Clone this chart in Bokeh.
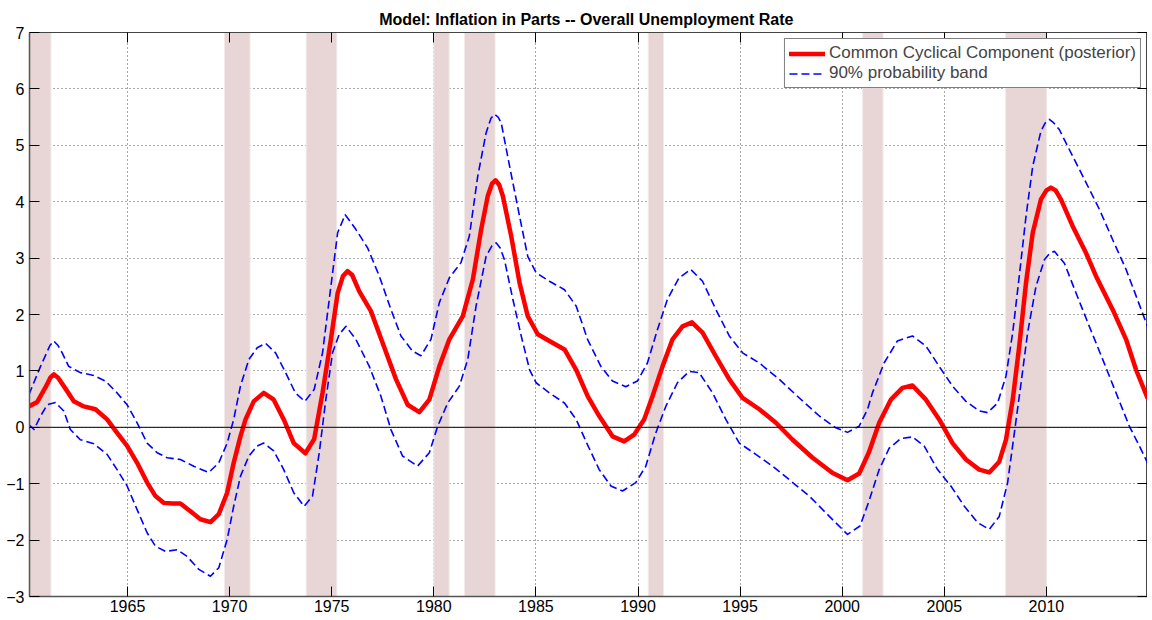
from bokeh.plotting import figure
from bokeh.models import (Range1d, FixedTicker, LinearAxis, Span, Legend, LegendItem,
                          ColumnDataSource, Title, Spacer)
from bokeh.layouts import row, column
from bokeh.embed import file_html
from bokeh.resources import INLINE

# ---------------- data ----------------
red_years = [1960.17, 1960.58, 1961.0, 1961.22, 1961.39, 1961.6, 1961.88, 1962.37, 1962.86, 1963.43, 1964.0, 1964.49,
             1964.98, 1965.47, 1965.96, 1966.37, 1966.78, 1967.2, 1967.59, 1968.08, 1968.57, 1969.06,
             1969.47, 1969.88, 1970.20, 1970.53, 1970.78, 1971.18, 1971.67, 1972.16, 1972.65, 1973.14,
             1973.71, 1974.14, 1974.55, 1974.96, 1975.29, 1975.55, 1975.78, 1976.0, 1976.35, 1976.92, 1977.49, 1978.15,
             1978.72, 1979.29, 1979.78, 1980.27, 1980.76, 1981.42, 1981.91, 1982.32, 1982.64, 1982.85, 1983.02,
             1983.2, 1983.38, 1983.79, 1984.2, 1984.6, 1985.09, 1985.66, 1986.4, 1986.97, 1987.54, 1988.10,
             1988.75, 1989.32, 1989.81, 1990.3, 1990.71, 1991.2, 1991.69, 1992.18, 1992.64, 1993.16,
             1993.81, 1994.47, 1995.12, 1995.94, 1996.75, 1997.57, 1998.55, 1999.53, 2000.26, 2000.83,
             2001.30, 2001.81, 2002.38, 2002.95, 2003.44, 2004.1, 2004.75, 2005.4, 2006.06, 2006.71,
             2007.2, 2007.69, 2008.02, 2008.35, 2008.67, 2009.0, 2009.33, 2009.73, 2010.0, 2010.22, 2010.45, 2010.71,
             2011.28, 2011.94, 2012.43, 2013.24, 2013.9, 2014.39, 2014.95]
red_vals = [0.37, 0.45, 0.72, 0.88, 0.94, 0.88, 0.73, 0.46, 0.37, 0.32, 0.14, -0.10,
            -0.33, -0.63, -0.98, -1.22, -1.34, -1.35, -1.35, -1.49, -1.63, -1.68,
            -1.54, -1.16, -0.63, -0.16, 0.14, 0.46, 0.61, 0.49, 0.14, -0.28,
            -0.46, -0.21, 0.61, 1.56, 2.38, 2.68, 2.77, 2.70, 2.41, 2.06, 1.50, 0.85,
            0.40, 0.27, 0.49, 1.08, 1.56, 1.97, 2.62, 3.51, 4.10, 4.32, 4.38,
            4.30, 4.10, 3.39, 2.56, 1.97, 1.65, 1.53, 1.38, 1.02, 0.55, 0.20,
            -0.16, -0.25, -0.13, 0.14, 0.55, 1.08, 1.56, 1.79, 1.86, 1.68,
            1.26, 0.85, 0.52, 0.32, 0.08, -0.22, -0.54, -0.81, -0.94, -0.82,
            -0.45, 0.08, 0.49, 0.70, 0.74, 0.49, 0.14, -0.28, -0.57, -0.75,
            -0.80, -0.61, -0.22, 0.49, 1.44, 2.56, 3.45, 4.04, 4.20, 4.25, 4.20, 4.04,
            3.57, 3.09, 2.68, 2.09, 1.56, 1.02, 0.52]

up_years = [1960.17, 1960.74, 1961.2, 1961.39, 1961.6, 1961.8, 1962.12, 1962.69, 1963.35, 1963.92, 1964.49, 1964.98,
            1965.47, 1965.96, 1966.45, 1966.94, 1967.59, 1968.24, 1968.98, 1969.47, 1969.88, 1970.20,
            1970.53, 1970.94, 1971.35, 1971.76, 1972.25, 1972.74, 1973.22, 1973.68, 1974.14, 1974.55,
            1974.96, 1975.29, 1975.66, 1976.18, 1976.76, 1977.33, 1977.9, 1978.39, 1978.96, 1979.37,
            1979.86, 1980.27, 1980.76, 1981.33, 1981.74, 1982.15, 1982.56, 1982.8, 1982.97, 1983.15, 1983.3, 1983.71,
            1984.2, 1984.6, 1985.01, 1985.66, 1986.4, 1986.97, 1987.54, 1988.18, 1988.75, 1989.4,
            1989.97, 1990.46, 1990.95, 1991.44, 1992.01, 1992.58, 1993.16, 1993.81, 1994.47, 1995.12,
            1995.94, 1996.92, 1997.9, 1998.88, 1999.69, 2000.26, 2000.83, 2001.24, 2001.48, 2002.05,
            2002.7, 2003.44, 2004.1, 2004.75, 2005.4, 2006.06, 2006.71, 2007.12, 2007.61, 2008.02,
            2008.35, 2008.67, 2009.0, 2009.33, 2009.73, 2009.95, 2010.14, 2010.35, 2010.63, 2011.28, 2011.94, 2012.6,
            2013.24, 2013.9, 2014.39, 2014.95]
up_vals = [0.58, 1.08, 1.45, 1.53, 1.45, 1.32, 1.08, 0.97, 0.92, 0.82, 0.61, 0.40,
           0.08, -0.28, -0.45, -0.54, -0.57, -0.69, -0.80, -0.63, -0.28, 0.14,
           0.73, 1.20, 1.41, 1.49, 1.32, 0.97, 0.61, 0.46, 0.67, 1.32,
           2.50, 3.45, 3.77, 3.51, 3.18, 2.68, 2.09, 1.62, 1.35, 1.27,
           1.56, 2.21, 2.65, 2.92, 3.39, 4.45, 5.22, 5.48, 5.55, 5.50, 5.40, 4.63,
           3.74, 3.03, 2.74, 2.59, 2.44, 2.15, 1.55, 1.08, 0.82, 0.72,
           0.82, 1.14, 1.73, 2.27, 2.65, 2.80, 2.59, 2.09, 1.62, 1.32,
           1.14, 0.85, 0.52, 0.20, -0.01, -0.09, 0.02, 0.32, 0.61, 1.14,
           1.53, 1.62, 1.44, 1.08, 0.73, 0.46, 0.29, 0.26, 0.43, 0.91,
           1.68, 2.68, 3.74, 4.63, 5.25, 5.40, 5.46, 5.40, 5.28, 4.81, 4.34, 3.86,
           3.33, 2.80, 2.33, 1.79]

lo_years = [1960.17, 1960.42, 1960.74, 1961.07, 1961.47, 1961.88, 1962.2, 1962.69, 1963.35, 1964.0,
            1964.49, 1964.98, 1965.47, 1965.96, 1966.37, 1966.86, 1967.43, 1967.92, 1968.49, 1969.06,
            1969.47, 1969.88, 1970.2, 1970.53, 1970.94, 1971.35, 1971.67, 1972.16, 1972.65, 1973.14,
            1973.65, 1974.06, 1974.39, 1974.71, 1975.04, 1975.37, 1975.7, 1976.18, 1976.84, 1977.41,
            1977.9, 1978.47, 1979.2, 1979.78, 1980.19, 1980.68, 1981.25, 1981.66, 1982.07, 1982.56,
            1982.85, 1983.05, 1983.25, 1983.46, 1983.87, 1984.28, 1984.69, 1985.01, 1985.66, 1986.4, 1986.97, 1987.54,
            1988.1, 1988.67, 1989.24, 1989.89, 1990.38, 1990.87, 1991.36, 1991.93, 1992.5, 1992.99,
            1993.65, 1994.3, 1994.96, 1995.77, 1996.59, 1997.41, 1998.39, 1999.37, 2000.26, 2000.87,
            2001.30, 2001.81, 2002.3, 2002.87, 2003.44, 2004.01, 2004.67, 2005.32, 2005.98, 2006.63,
            2007.2, 2007.69, 2008.1, 2008.43, 2008.76, 2009.08, 2009.49, 2009.9, 2010.15, 2010.39, 2010.88,
            2011.45, 2012.1, 2012.76, 2013.41, 2014.06, 2014.55, 2014.95]
lo_vals = [0.05, -0.04, 0.20, 0.40, 0.44, 0.29, -0.04, -0.22, -0.29, -0.48,
           -0.75, -1.04, -1.46, -1.87, -2.11, -2.20, -2.17, -2.29, -2.52, -2.64,
           -2.49, -1.99, -1.40, -0.87, -0.51, -0.33, -0.28, -0.42, -0.75, -1.16,
           -1.40, -1.22, -0.45, 0.49, 1.32, 1.65, 1.79, 1.56, 1.08, 0.55,
           -0.04, -0.51, -0.69, -0.45, 0.02, 0.43, 0.73, 1.20, 2.15, 3.03,
           3.22, 3.27, 3.18, 2.97, 2.27, 1.62, 1.02, 0.79, 0.61, 0.43, 0.14, -0.32,
           -0.75, -1.04, -1.13, -0.98, -0.69, -0.10, 0.37, 0.79, 0.99, 0.97,
           0.61, 0.14, -0.28, -0.48, -0.69, -0.93, -1.22, -1.58, -1.90, -1.75,
           -1.32, -0.75, -0.37, -0.20, -0.17, -0.33, -0.75, -1.04, -1.40, -1.69,
           -1.81, -1.58, -0.98, -0.10, 0.79, 1.68, 2.50, 2.97, 3.08, 3.12, 2.91,
           2.38, 1.79, 1.20, 0.61, 0.02, -0.33, -0.63]

rec_start = [1960.2, 1969.75, 1973.75, 1980.0, 1981.5, 1990.5, 2001.0, 2008.0]
rec_end = [1961.25, 1971.0, 1975.25, 1980.75, 1983.0, 1991.25, 2002.0, 2010.0]

x_ticks = [1965, 1970, 1975, 1980, 1985, 1990, 1995, 2000, 2005, 2010]
y_ticks = [-3, -2, -1, 0, 1, 2, 3, 4, 5, 6, 7]
x_lo, x_hi = 1960.2, 2014.95
y_lo, y_hi = -3, 7

title_text = "Model: Inflation in Parts -- Overall  Unemployment Rate"
label_red = "Common Cyclical Component (posterior)"
label_band = "90% probability band"

FONT = "Liberation Sans"

# ---------------- figure ----------------
p = figure(frame_width=1118, frame_height=564,
           x_range=Range1d(x_lo, x_hi), y_range=Range1d(y_lo, y_hi),
           output_backend="svg", toolbar_location=None,
           min_border_left=0, min_border_right=0, min_border_top=0, min_border_bottom=0)
p.background_fill_color = "white"
p.border_fill_color = "white"
p.outline_line_color = "#444444"
p.outline_line_width = 1

p.title = Title(text=title_text, align="center", text_font=FONT, text_font_size="16px",
                text_font_style="bold", text_color="black", standoff=10, offset=0)

for ax in (p.xaxis[0], p.yaxis[0]):
    ax.major_tick_in = 10
    ax.major_tick_out = 0
    ax.minor_tick_in = 0
    ax.minor_tick_out = 0
    ax.axis_line_color = "#555555"
    ax.axis_line_width = 1.5
    ax.major_tick_line_color = "black"
    ax.major_label_text_font = FONT
    ax.major_label_text_font_size = "16px"
    ax.major_label_text_color = "black"
p.xaxis[0].ticker = FixedTicker(ticks=x_ticks)
p.yaxis[0].ticker = FixedTicker(ticks=y_ticks)
p.xaxis[0].major_label_standoff = 3
p.yaxis[0].major_label_standoff = 5

top_ax = LinearAxis(ticker=FixedTicker(ticks=x_ticks), major_tick_in=10, major_tick_out=0,
                    minor_tick_in=0, minor_tick_out=0, major_label_text_font_size="1px",
                    major_label_text_color=None, major_label_standoff=0,
                    axis_line_color="#444444")
right_ax = LinearAxis(ticker=FixedTicker(ticks=y_ticks), major_tick_in=10, major_tick_out=0,
                      minor_tick_in=0, minor_tick_out=0, major_label_text_font_size="1px",
                      major_label_text_color=None, major_label_standoff=0,
                      axis_line_color="#444444")
p.add_layout(top_ax, "above")
p.add_layout(right_ax, "right")

for g in (p.xgrid[0], p.ygrid[0]):
    g.grid_line_color = "#444444"
    g.grid_line_dash = "1 3"
    g.grid_line_width = 1
    g.grid_line_alpha = 0.9
p.xgrid[0].ticker = FixedTicker(ticks=x_ticks)
p.ygrid[0].ticker = FixedTicker(ticks=y_ticks)

# recession shading
rec_src = ColumnDataSource(dict(left=rec_start, right=rec_end,
                                bottom=[y_lo] * len(rec_start), top=[y_hi] * len(rec_start)))
p.quad(left="left", right="right", bottom="bottom", top="top", source=rec_src,
       fill_color="#e8d5d5", line_color="#f3ebeb", line_width=1)

zero = Span(location=0, dimension="width", line_color="black", line_width=1, level="glyph")
p.add_layout(zero)

r_up = p.line(up_years, up_vals, line_color="#0000ff", line_width=1.6, line_dash="8 4",
              line_join="round")
r_lo = p.line(lo_years, lo_vals, line_color="#0000ff", line_width=1.6, line_dash="8 4",
              line_join="round")
r_red = p.line(red_years, red_vals, line_color="#ff0000", line_width=4.5,
               line_join="round", line_cap="round")

legend = Legend(items=[LegendItem(label=label_red, renderers=[r_red]),
                       LegendItem(label=label_band, renderers=[r_up])],
                location="top_right", margin=6, padding=4, spacing=0,
                glyph_width=36, glyph_height=19, label_height=19, label_standoff=4,
                label_text_font=FONT, label_text_font_size="17px",
                border_line_color="black", border_line_width=1,
                background_fill_color="white", background_fill_alpha=1)
p.add_layout(legend, "center")

layout = column(Spacer(height=3), row(Spacer(width=3), p))
open("out.html", "w").write(file_html(layout, INLINE))
